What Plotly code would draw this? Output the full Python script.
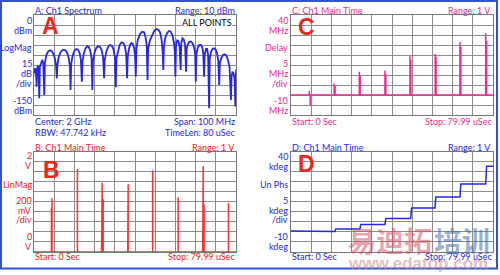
import plotly.graph_objects as go

# ---------------- data ----------------
# Panel A: spectrum (MHz, dBm), read off the trace lobe by lobe
spec_freq_mhz = [
    1950.0, 1950.5, 1950.9, 1951.3,
    1951.6, 1952.0, 1952.3, 1952.6,
    1952.9, 1953.5, 1954.1, 1954.6, 1955.1,
    1955.4, 1956.1, 1957.0, 1957.8, 1958.7, 1959.6, 1960.4, 1960.9, 1961.3,
    1961.6, 1962.3, 1963.3, 1964.4, 1965.5, 1966.5, 1967.3, 1967.8, 1968.1,
    1968.4, 1969.1, 1970.0, 1970.9, 1971.8, 1972.6, 1973.2, 1973.7,
    1974.0, 1974.7, 1975.5, 1976.3, 1977.1, 1977.8, 1978.5, 1978.9,
    1979.2, 1980.0, 1980.9, 1981.8, 1982.7, 1983.5, 1984.2, 1984.7,
    1985.0, 1985.8, 1986.7, 1987.6, 1988.5, 1989.3, 1990.0, 1990.5,
    1990.8, 1991.6, 1992.4, 1993.3, 1994.2, 1995.0, 1995.6, 1996.1,
    1996.4, 1997.1, 1997.7, 1998.3, 1999.0, 1999.6, 2000.0, 2000.4,
    2000.7, 2001.4, 2002.4, 2003.5, 2004.5, 2005.2, 2005.8, 2006.2,
    2006.5, 2007.4, 2008.5, 2009.5, 2010.5, 2011.5, 2012.4, 2013.2, 2013.7, 2014.0,
    2014.3, 2015.0, 2015.9, 2016.8, 2017.7, 2018.5, 2019.3, 2019.7, 2020.0,
    2020.3, 2020.9, 2021.5, 2022.1, 2022.6,
    2022.9, 2023.5, 2024.2, 2024.8, 2025.3,
    2025.6, 2026.3, 2027.0, 2027.8, 2028.6, 2029.4, 2029.8, 2030.1,
    2030.4, 2031.1, 2031.8, 2032.6, 2033.3, 2033.8, 2034.2,
    2034.5, 2035.1, 2035.7, 2036.2, 2036.7,
    2037.0, 2037.7, 2038.4, 2039.1, 2039.9, 2040.6, 2041.2, 2041.7,
    2042.0, 2042.8, 2043.6, 2044.4, 2045.2, 2046.0, 2046.8, 2047.5,
    2047.8, 2048.3, 2048.8, 2049.3, 2049.7,
    2050.0]
spec_dbm = [
    -88, -80, -82, -107.5,
    -80, -76, -82, -125,
    -78, -70, -67, -72, -120,
    -72, -60, -55, -53, -54, -58, -66, -75, -95,
    -75, -62, -55, -52, -53, -57, -66, -78, -112.5,
    -74, -61, -54, -51, -52, -57, -67, -100,
    -70, -57, -50, -47, -48, -53, -65, -112.5,
    -70, -56, -49, -47, -48, -53, -64, -95,
    -68, -55, -48, -45, -46, -51, -62, -108.5,
    -65, -52, -45, -41, -42, -47, -58, -95,
    -62, -50, -44, -42, -44, -50, -60, -92.5,
    -50, -37, -29, -25, -26, -33, -45, -97.5,
    -50, -38, -30, -24, -21, -22, -26, -38, -55, -82.5,
    -48, -34, -27, -24, -25, -30, -42, -55, -92.5,
    -45, -38, -39, -48, -82.5,
    -42, -35, -37, -46, -85,
    -50, -43, -40, -40, -43, -50, -60, -100,
    -58, -49, -45, -45, -48, -58, -92.5,
    -60, -51, -51, -60, -140,
    -65, -55, -51, -50, -52, -57, -68, -105,
    -72, -64, -60, -59, -61, -67, -78, -127.5,
    -92, -85, -88, -97, -137.5,
    -82]

# Panel B: linear magnitude pulses (usec, V)
b_pulse_t = [6.9, 7.14, 17.2, 26.75, 27.0, 27.4, 37.1, 37.3, 47.0, 57.1, 66.8, 67.0, 67.35, 77.0]
b_pulse_v = [0.87, 1.07, 1.65, 0.87, 1.38, 1.05, 1.2, 1.35, 1.62, 1.09, 0.38, 1.71, 0.95, 0.97]

# Panel C: delay spikes (usec, MHz)
c_pulse_t = [7.25, 7.6, 17.1, 17.45, 27.05, 27.4, 37.2, 37.55, 47.1, 47.45, 57.1, 57.45, 66.9, 67.25, 77.1, 77.45]
c_pulse_v = [2.0, -5.4, 5.8, 4.5, 11.6, 9.5, 12.3, 10.5, 19.4, 17.5, 20.5, 19.0, 26.5, 24.0, 30.9, 27.0]

# Panel D: unwrapped phase steps (usec, kdeg)
d_step_t = [7.2, 17.4, 27.3, 37.2, 47.4, 57.0, 66.9, 77.1]
d_level = [0.5, 0.2, 1.5, 3.7, 6.7, 11.9, 17.4, 23.8, 32.6]

T_STOP = 79.99

# ---------------- build traces ----------------
def spikes(ts, vs, base=0.0):
    xs, ys = [0.0], [base]
    for t, v in zip(ts, vs):
        xs += [t, t, t]
        ys += [base, v, base]
    xs.append(T_STOP)
    ys.append(base)
    return xs, ys

bx, by = spikes(b_pulse_t, b_pulse_v)
cx, cy = spikes(c_pulse_t, c_pulse_v)

dx, dy = [0.0], [d_level[0]]
for i, t in enumerate(d_step_t):
    dx += [t, t + 0.35]
    dy += [d_level[i], d_level[i + 1]]
dx.append(T_STOP)
dy.append(d_level[-1])

BLUE = "#2626e6"
RED = "#ff3030"
RED_T = "#f02020"
PINK = "#f0288c"
BIG = "#e82818"
GRID = "#8c8c8c"
FONT = "Lato, Liberation Sans, Arial, sans-serif"
FS = 9

W, H = 500, 275
def xp(p): return p / W
def yp(p): return 1 - p / H

fig = go.Figure()
fig.add_trace(go.Scatter(x=spec_freq_mhz, y=spec_dbm, mode="lines",
                         line=dict(color=BLUE, width=1.8), xaxis="x", yaxis="y"))
fig.add_trace(go.Scatter(x=cx, y=cy, mode="lines",
                         line=dict(color=PINK, width=1.5), xaxis="x2", yaxis="y2"))
fig.add_trace(go.Scatter(x=bx, y=by, mode="lines",
                         line=dict(color=RED, width=1.5), xaxis="x3", yaxis="y3"))
fig.add_trace(go.Scatter(x=dx, y=dy, mode="lines",
                         line=dict(color=BLUE, width=1.5), xaxis="x4", yaxis="y4"))

def ax(domain, rng, dtick, anchor):
    return dict(domain=domain, range=rng, dtick=dtick, tick0=rng[0], showgrid=True,
                gridcolor=GRID, gridwidth=1, zeroline=False, showticklabels=False,
                ticks="", showline=True, linecolor="#777777", linewidth=1, mirror=True,
                anchor=anchor, fixedrange=True)

L_DOM = [xp(34), xp(236)]
R_DOM = [xp(291), xp(493)]
T_DOM = [yp(115), yp(15)]
B_DOM = [yp(252), yp(151.5)]

fig.update_layout(
    width=W, height=H, margin=dict(l=0, r=0, t=0, b=0),
    paper_bgcolor="white", plot_bgcolor="white", showlegend=False,
    xaxis=ax(L_DOM, [1950, 2050], 10, "y"),
    yaxis=ax(T_DOM, [-150, 0], 15, "x"),
    xaxis2=ax(R_DOM, [0, T_STOP], T_STOP / 10, "y2"),
    yaxis2=ax(T_DOM, [-10, 40], 5, "x2"),
    xaxis3=ax(L_DOM, [0, T_STOP], T_STOP / 10, "y3"),
    yaxis3=ax(B_DOM, [0, 2], 0.2, "x3"),
    xaxis4=ax(R_DOM, [0, T_STOP], T_STOP / 10, "y4"),
    yaxis4=ax(B_DOM, [-10, 40], 5, "x4"),
)

anns = []
def txt(s, x, y, color, anchor="left", size=FS, bold=False, family=FONT, bg=None):
    a = dict(text=("<b>%s</b>" % s) if bold else s, x=xp(x), y=yp(y), xref="paper", yref="paper",
             xanchor=anchor, yanchor="middle", showarrow=False,
             font=dict(family=family, size=size, color=color), borderpad=0)
    if bg:
        a["bgcolor"] = bg
    anns.append(a)

# Panel A texts
txt("A: Ch1 Spectrum", 34, 10.5, BLUE)
txt("Range: 10 dBm", 236, 10.5, BLUE, "right")
txt("Center: 2 GHz", 34, 122, BLUE)
txt("RBW: 47.742 kHz", 34, 132, BLUE)
txt("Span: 100 MHz", 236, 122, BLUE, "right")
txt("TimeLen: 80 uSec", 236, 132, BLUE, "right")
for s, y in [("0", 20), ("dBm", 30), ("LogMag", 47.5), ("15", 63.5), ("dB", 74), ("/div", 84),
             ("-150", 100.5), ("dBm", 110.5)]:
    txt(s, 33, y, BLUE, "right")
txt("ALL POINTS", 233, 23, "black", "right", bg="white")
txt("A", 50, 26, BIG, "center", size=23, bold=True, family="Liberation Sans, Arial")

# Panel C texts
txt("C: Ch1 Main Time", 291, 10.5, PINK)
txt("Range: 1 V", 492, 10.5, PINK, "right")
txt("Start: 0 Sec", 291, 122, PINK)
txt("Stop: 79.99 uSec", 493, 122, PINK, "right")
for s, y in [("40", 20.5), ("MHz", 30.5), ("Delay", 47.5), ("5", 63.5), ("MHz", 74), ("/div", 84),
             ("-10", 100.5), ("MHz", 110.5)]:
    txt(s, 289, y, PINK, "right")
txt("C", 306, 27, BIG, "center", size=23, bold=True, family="Liberation Sans, Arial")

# Panel B texts
txt("B: Ch1 Main Time", 34, 147, RED_T)
txt("Range: 1 V", 236, 147, RED_T, "right")
txt("Start: 0 Sec", 34, 256, RED_T)
txt("Stop: 79.99 uSec", 236, 256, RED_T, "right")
for s, y in [("2", 155), ("V", 165), ("LinMag", 184), ("200", 200.5), ("mV", 210), ("/div", 219.5),
             ("0", 236.5), ("V", 246.5)]:
    txt(s, 33, y, RED_T, "right")
txt("B", 51, 170, BIG, "center", size=23, bold=True, family="Liberation Sans, Arial")

# Panel D texts
txt("D: Ch1 Main Time", 291, 147, BLUE)
txt("Range: 1 V", 492, 147, BLUE, "right")
txt("Start: 0 Sec", 291, 256, BLUE)
txt("Stop: 79.99 uSec", 493, 256, BLUE, "right")
for s, y in [("40", 156.5), ("kdeg", 166.5), ("Un Phs", 184), ("5", 200.5), ("kdeg", 210), ("/div", 219.5),
             ("-10", 236.5), ("kdeg", 246.5)]:
    txt(s, 289, y, BLUE, "right")
txt("D", 306, 164, BIG, "center", size=23, bold=True, family="Liberation Sans, Arial")

# watermark
txt("易迪拓", 347, 240, "rgba(214,70,90,0.5)", "left", size=28, bold=True, family="Noto Sans CJK SC")
txt("培训", 433, 240, "rgba(70,110,170,0.55)", "left", size=28, bold=True, family="Noto Sans CJK SC")
txt("www.edatop.com", 418, 263, "rgba(210,130,140,0.55)", "center", size=17, bold=True,
    family="Liberation Sans, Arial")

fig.update_layout(annotations=anns)

fig.add_shape(type="rect", xref="paper", yref="paper", x0=xp(1), x1=xp(497), y0=yp(268.5), y1=yp(1),
              line=dict(color="#3355cc", width=2), layer="below")

fig.write_html("out.html")
